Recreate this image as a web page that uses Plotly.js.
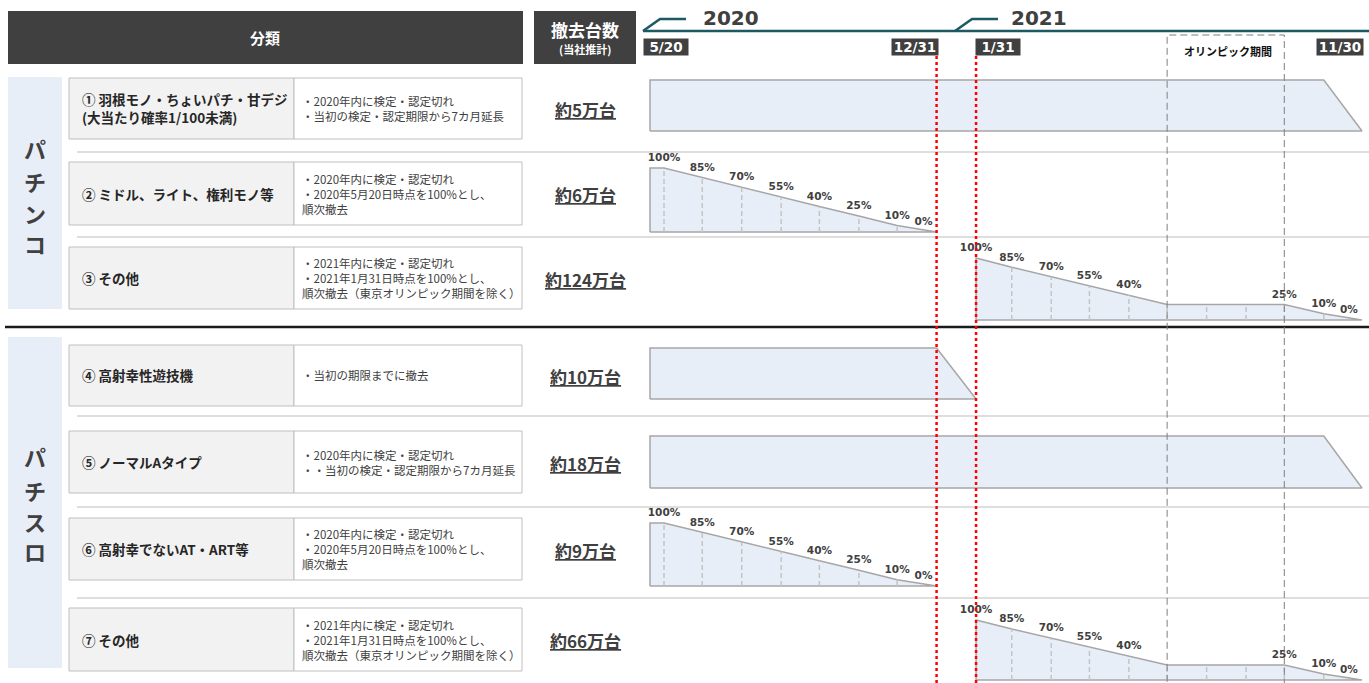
<!DOCTYPE html>
<html>
<head>
<meta charset="utf-8">
<script src="https://cdn.plot.ly/plotly-3.0.1.min.js"></script>
<style>body { margin: 0; background: #fff; }</style>
</head>
<body>
<div id="chart" style="width:1369px;height:683px"></div>
<script>
// --- data ---
const rowTitles = [
    "① 羽根モノ・ちょいパチ・甘デジ<br>(大当たり確率1/100未満)",
    "② ミドル、ライト、権利モノ等",
    "③ その他",
    "④ 高射幸性遊技機",
    "⑤ ノーマルAタイプ",
    "⑥ 高射幸でないAT・ART等",
    "⑦ その他"
]
const rowNotes = [
    "・2020年内に検定・認定切れ<br>・当初の検定・認定期限から7カ月延長",
    "・2020年内に検定・認定切れ<br>・2020年5月20日時点を100%とし、<br>順次撤去",
    "・2021年内に検定・認定切れ<br>・2021年1月31日時点を100%とし、<br>順次撤去（東京オリンピック期間を除く）",
    "・当初の期限までに撤去",
    "・2020年内に検定・認定切れ<br>・・当初の検定・認定期限から7カ月延長",
    "・2020年内に検定・認定切れ<br>・2020年5月20日時点を100%とし、<br>順次撤去",
    "・2021年内に検定・認定切れ<br>・2021年1月31日時点を100%とし、<br>順次撤去（東京オリンピック期間を除く）"
]
const removalCounts = ["約5万台", "約6万台", "約124万台", "約10万台", "約18万台", "約9万台", "約66万台"]
const rowProfile = ["extended", "steps2020", "steps2021", "original", "extended", "steps2020", "steps2021"]
const groupNames = ["パチンコ", "パチスロ"]

const extendedDates = ["2020-05-20", "2021-10-31", "2021-11-30"]
const extendedShare = [100, 100, 0]
const originalDates = ["2020-05-20", "2020-12-31", "2021-01-31"]
const originalShare = [100, 100, 0]
const steps2020Dates = ["2020-05-20", "2020-05-31", "2020-06-30", "2020-07-31", "2020-08-31", "2020-09-30", "2020-10-31", "2020-11-30", "2020-12-31"]
const steps2020Share = [100, 100, 85, 70, 55, 40, 25, 10, 0]
const steps2020Labels = ["", "100%", "85%", "70%", "55%", "40%", "25%", "10%", "0%"]
const steps2021Dates = ["2021-01-31", "2021-02-28", "2021-03-31", "2021-04-30", "2021-05-31", "2021-06-30", "2021-07-31", "2021-08-31", "2021-09-30", "2021-10-31", "2021-11-30"]
const steps2021Share = [100, 85, 70, 55, 40, 25, 25, 25, 25, 10, 0]
const steps2021Labels = ["100%", "85%", "70%", "55%", "40%", "", "", "", "25%", "10%", "0%"]

const olympicPeriod = ["2021-06-30", "2021-09-30"]
const cutoffDates = ["2020-12-31", "2021-01-31"]
const milestoneDates = ["2020-05-20", "2020-12-31", "2021-01-31", "2021-11-30"]
const milestoneLabels = ["5/20", "12/31", "1/31", "11/30"]
const years = ["2020", "2021"]

// --- layout helpers (pixels -> paper) ---
const W = 1369, H = 683
const X = px => px / W
const Y = py => 1 - py / H
const CJK = "Noto Sans CJK JP"
const DARK = "#404040"

const profiles = {
    extended: {dates: extendedDates, share: extendedShare, steps: false},
    original: {dates: originalDates, share: originalShare, steps: false},
    steps2020: {dates: steps2020Dates, share: steps2020Share, labels: steps2020Labels, steps: true},
    steps2021: {dates: steps2021Dates, share: steps2021Share, labels: steps2021Labels, steps: true}
}

// row geometry: pixel y of 100% and of 0%
const rowTop = [80, 168, 258, 348, 436, 523, 620]
const rowBottom = [131, 232, 320, 399, 488, 586, 680]
const cellTop = [78, 162, 247, 345, 431, 518, 608]
const cellBottom = [139, 225, 309, 406, 493, 580, 671]
const groupCharY = [[148, 181, 213, 243], [456, 490, 521, 551]]

// timeline x axis: 5/20/2020 at 650px, 11/30/2021 at 1362px
const t0 = Date.parse("2020-05-20"), t1 = Date.parse("2021-11-30")
const pxPerDay = (1362 - 650) / ((t1 - t0) / 864e5)
const padDays = 4

const traces = []
const layout = {
    width: W, height: H,
    margin: {l: 0, r: 0, t: 0, b: 0},
    paper_bgcolor: "#fff", plot_bgcolor: "rgba(0,0,0,0)",
    showlegend: false,
    xaxis: {
        type: "date", visible: false, fixedrange: true,
        range: ["2020-05-16", "2021-12-04"],
        domain: [X(650 - padDays * pxPerDay), X(1362 + padDays * pxPerDay)]
    },
    shapes: [],
    annotations: []
}

const rect = (x0, y0, x1, y1, fill, line, extra) => layout.shapes.push(Object.assign({
    type: "rect", xref: "paper", yref: "paper", layer: "below",
    x0: X(x0), x1: X(x1), y0: Y(y1), y1: Y(y0),
    fillcolor: fill, line: line || {width: 0}
}, extra || {}))
const hline = (x0, x1, y, color, width) => layout.shapes.push({
    type: "line", xref: "paper", yref: "paper", layer: "below",
    x0: X(x0), x1: X(x1), y0: Y(y), y1: Y(y), line: {color, width}
})
const path = (pts, color, width) => layout.shapes.push({
    type: "path", xref: "paper", yref: "paper",
    path: pts.map((p, i) => (i ? "L" : "M") + X(p[0]) + "," + Y(p[1])).join(" "),
    line: {color, width}
})
const note = (x, y, text, size, opts) => layout.annotations.push(Object.assign({
    xref: "paper", yref: "paper", x: X(x), y: Y(y), text, showarrow: false,
    xanchor: "center", yanchor: "middle",
    font: {family: CJK, size, color: DARK}
}, opts || {}))

// --- header ---
rect(8, 11, 523, 64, DARK)
note(265, 38, "<b>分類</b>", 15, {font: {family: CJK, size: 15, color: "#fff"}})
rect(534, 11, 636, 64, DARK)
note(585, 29, "<b>撤去台数</b>", 17, {font: {family: CJK, size: 17, color: "#fff"}})
note(585, 49, "<b>(当社推計)</b>", 11, {font: {family: CJK, size: 11, color: "#fff"}})

hline(643, 1369, 31, "#1d5963", 2.5)
path([[643, 31], [660, 19], [686, 19]], "#1d5963", 2.5)
path([[955, 31], [972, 19], [998, 19]], "#1d5963", 2.5)
note(701, 18, "<b>" + years[0] + "</b>", 20, {xanchor: "left", font: {family: "DejaVu Sans", size: 20, color: DARK}})
note(1009, 18, "<b>" + years[1] + "</b>", 20, {xanchor: "left", font: {family: "DejaVu Sans", size: 20, color: DARK}})

milestoneDates.forEach((d, i) => {
    const right = i === 1 || i === 3
    layout.annotations.push({
        xref: "x", yref: "paper", x: d, y: Y(46.5),
        xanchor: right ? "right" : "left", yanchor: "middle",
        xshift: [-7, 2, -1, 2][i],
        text: "<b>" + milestoneLabels[i] + "</b>", showarrow: false,
        width: right ? 46 : 44, height: 16, borderpad: 0,
        bgcolor: DARK, font: {family: "DejaVu Sans", size: 13.5, color: "#fff"}
    })
})
note(1228, 51, "<b>オリンピック期間</b>", 11, {font: {family: CJK, size: 11, color: "#111"}})

// --- side groups ---
rect(8, 77, 62, 309, "#e8eef8")
rect(8, 337, 62, 668, "#e8eef8")
groupNames.forEach((name, g) => {
    Array.from(name).forEach((ch, i) => note(35, groupCharY[g][i], "<b>" + ch + "</b>", 22))
})

// separators
;[152, 237, 416, 507, 598].forEach(y => hline(77, 1369, y, "#d3d3d3", 1.5))
hline(5, 1369, 327, "#1a1a1a", 2.5)

// --- rows ---
rowProfile.forEach((key, r) => {
    const prof = profiles[key]
    const yName = r === 0 ? "y" : "y" + (r + 1)
    const unit = (rowBottom[r] - rowTop[r]) / 100
    layout[r === 0 ? "yaxis" : "yaxis" + (r + 1)] = {
        visible: false, fixedrange: true, anchor: "x", range: [-3, 103],
        domain: [Y(rowBottom[r] + 3 * unit), Y(rowTop[r] - 3 * unit)]
    }

    // table cells
    rect(69, cellTop[r], 294, cellBottom[r], "#f2f2f2", {color: "#bfbfbf", width: 1})
    rect(294, cellTop[r], 522, cellBottom[r], "#ffffff", {color: "#bfbfbf", width: 1})
    const mid = (cellTop[r] + cellBottom[r]) / 2
    note(80, mid, "<b>" + rowTitles[r] + "</b>", 13.5, {xanchor: "left", align: "left", font: {family: CJK, size: 13.5, color: "#262626"}})
    note(300, mid, rowNotes[r], 11.5, {xanchor: "left", align: "left"})
    note(585, mid + 1, "<u><b>" + removalCounts[r] + "</b></u>", 17)

    // removal profile
    traces.push({
        type: "scatter", mode: "lines", xaxis: "x", yaxis: yName,
        x: [prof.dates[0], ...prof.dates, prof.dates[0]],
        y: [0, ...prof.share, 0],
        fill: "toself", fillcolor: "#e8eef8",
        line: {color: "#a6a6a6", width: 1.5}, hoverinfo: "skip"
    })
    if (prof.steps) {
        const gx = [], gy = []
        for (let i = 1; i < prof.dates.length - 1; i++) {
            gx.push(prof.dates[i], prof.dates[i], null)
            gy.push(0, prof.share[i], null)
        }
        traces.push({
            type: "scatter", mode: "lines", xaxis: "x", yaxis: yName,
            x: gx, y: gy, line: {color: "#c4c4c4", width: 1.5, dash: "5px,3px"}, hoverinfo: "skip"
        })
        traces.push({
            type: "scatter", mode: "markers+text", xaxis: "x", yaxis: yName, cliponaxis: false,
            x: prof.dates, y: prof.share, text: prof.labels,
            marker: {size: 5, opacity: 0},
            textposition: prof.labels.map((t, i) => i === prof.labels.length - 1 ? "top left" : "top center"),
            textfont: {family: "DejaVu Sans", size: 10.5, color: DARK, weight: "bold"},
            hoverinfo: "skip"
        })
    }
})

// olympic period and cut-off lines
layout.shapes.push({
    type: "rect", xref: "x", yref: "paper", x0: olympicPeriod[0], x1: olympicPeriod[1],
    y0: -0.01, y1: Y(35), line: {color: "#7f7f7f", width: 1, dash: "7px,4px"}
})
cutoffDates.forEach(d => layout.shapes.push({
    type: "line", xref: "x", yref: "paper", x0: d, x1: d, y0: 0, y1: Y(56),
    line: {color: "#ff0000", width: 2.5, dash: "dot"}
}))

Plotly.newPlot("chart", traces, layout, {staticPlot: true, displayModeBar: false})
</script>
</body>
</html>
